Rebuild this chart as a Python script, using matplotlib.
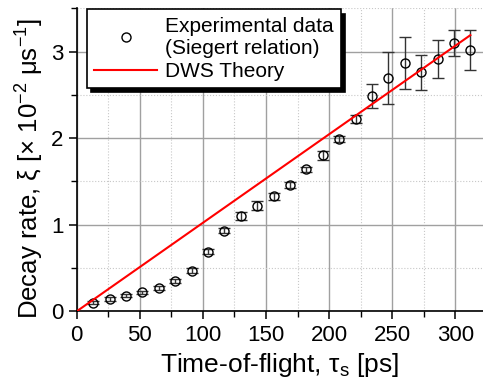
import matplotlib
matplotlib.use("Agg")
import matplotlib.pyplot as plt
from matplotlib.lines import Line2D
from matplotlib.ticker import MultipleLocator

plt.rcParams['font.family'] = ['Liberation Sans', 'DejaVu Sans']
plt.rcParams['mathtext.default'] = 'regular'

# time-of-flight [ps] and decay rate [x 1e-2 1/us]
tof = [13, 26, 39, 52, 65, 78, 91, 104, 117, 130, 143, 156,
       169, 182, 195, 208, 221, 234, 247, 260, 273, 286, 299, 312]
decay = [0.10, 0.14, 0.18, 0.22, 0.27, 0.35, 0.47, 0.69, 0.93, 1.10, 1.22, 1.33,
         1.46, 1.64, 1.80, 1.99, 2.22, 2.49, 2.69, 2.87, 2.76, 2.91, 3.10, 3.02]
decay_err = [0.02, 0.02, 0.02, 0.02, 0.02, 0.02, 0.03, 0.03, 0.03, 0.05, 0.05, 0.04,
             0.03, 0.03, 0.05, 0.03, 0.05, 0.14, 0.30, 0.30, 0.20, 0.22, 0.15, 0.23]

theory_x = [0, 312]
theory_y = [0, 3.19]

fig = plt.figure(figsize=(4.83, 3.85), dpi=100)
ax = fig.add_axes([0.1588, 0.1914, 0.8412, 0.7870])

ax.errorbar(tof, decay, yerr=decay_err, fmt='o', mfc='none', mec='black',
            ms=6.5, mew=1.0, ecolor='#333333', elinewidth=1.0, capsize=4,
            capthick=1.0, zorder=3)
ax.plot(theory_x, theory_y, color='red', lw=1.5, zorder=4)

ax.set_xlim(0, 322)
ax.set_ylim(0, 3.5)
ax.xaxis.set_major_locator(MultipleLocator(50))
ax.xaxis.set_minor_locator(MultipleLocator(25))
ax.yaxis.set_major_locator(MultipleLocator(1))
ax.yaxis.set_minor_locator(MultipleLocator(0.5))

ax.grid(which='major', color='#a0a0a0', lw=1.0, ls='-')
ax.grid(which='minor', color='#c8c8c8', lw=0.8, ls=':')
ax.set_axisbelow(True)

for s in ['top', 'right']:
    ax.spines[s].set_visible(False)
for s in ['left', 'bottom']:
    ax.spines[s].set_linewidth(1.2)

ax.tick_params(which='major', direction='out', length=6, width=1.1, labelsize=16)
ax.tick_params(which='minor', direction='out', length=4, width=1.0)

ax.set_xlabel('Time-of-flight, τ$_{s}$ [ps]', fontsize=19, labelpad=4)
ax.set_ylabel('Decay rate, ξ [× 10$^{-2}$ μs$^{-1}$]', fontsize=18.5)
ax.yaxis.set_label_coords(-0.075, 0.47)

handles = [
    Line2D([], [], ls='none', marker='o', mfc='none', mec='black', ms=6.5, mew=1.0),
    Line2D([], [], color='red', lw=1.5),
]
labels = ['Experimental data\n(Siegert relation)', 'DWS Theory']
leg = ax.legend(handles, labels, loc='upper left', bbox_to_anchor=(0.015, 1.01),
                fontsize=15, fancybox=False,
                shadow={'color': 'black', 'alpha': 1, 'ox': 3, 'oy': -3},
                framealpha=1, edgecolor='black', borderpad=0.35,
                handlelength=3.0, labelspacing=0.2, handletextpad=0.4,
                borderaxespad=0.2)
leg.get_frame().set_linewidth(1.2)

fig.savefig('out.png', dpi=100)
